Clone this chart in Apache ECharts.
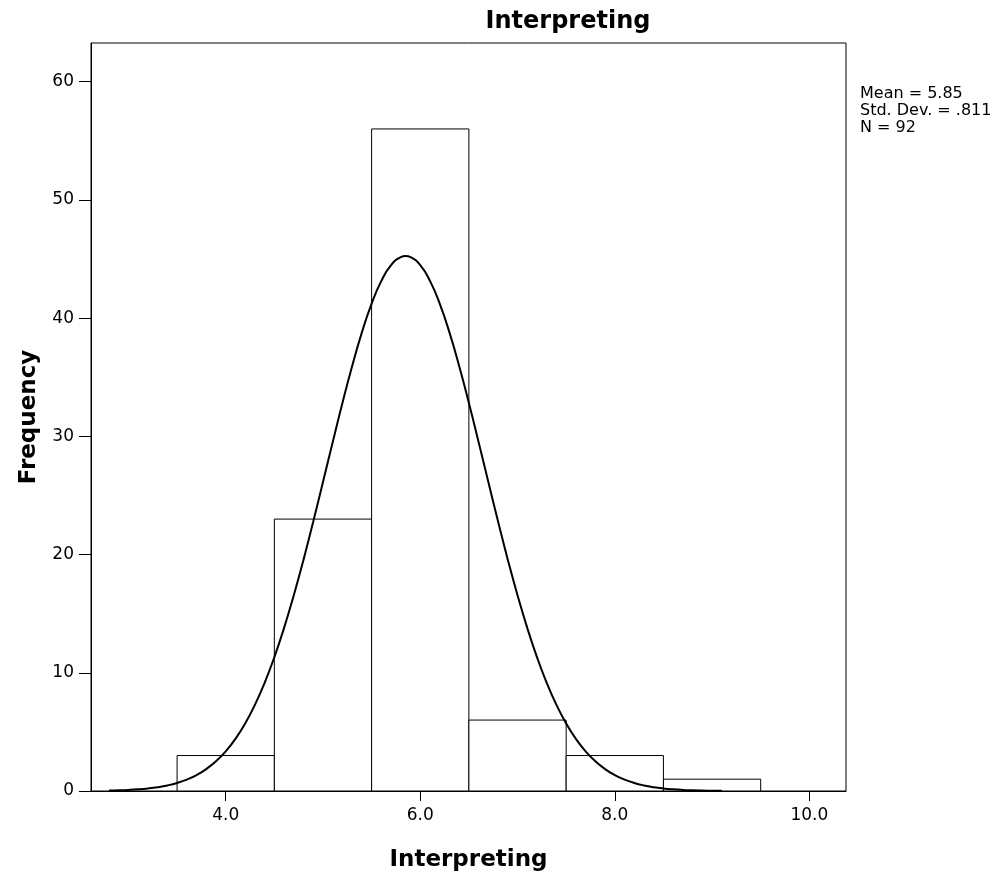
<!DOCTYPE html>
<html>
<head>
<meta charset="utf-8">
<script src="https://cdn.jsdelivr.net/npm/echarts@6/dist/echarts.min.js"></script>
<style>html,body{margin:0;padding:0;background:#fff}#c{width:1001px;height:877px}</style>
</head>
<body>
<div id="c"></div>
<script>
// Histogram bins (value range) and frequencies
var binStart = [3.5, 4.5, 5.5, 6.5, 7.5, 8.5];
var binEnd   = [4.5, 5.5, 6.5, 7.5, 8.5, 9.5];
var counts   = [3, 23, 56, 6, 3, 1];

// Fitted normal curve
var curveX = [2.8,2.9,3.0,3.1,3.2,3.3,3.4,3.5,3.6,3.7,3.8,3.9,4.0,4.1,4.2,4.3,4.4,4.5,4.6,4.7,4.8,4.9,5.0,5.1,5.2,5.3,5.4,5.5,5.6,5.7,5.8,5.85,5.9,6.0,6.1,6.2,6.3,6.4,6.5,6.6,6.7,6.8,6.9,7.0,7.1,7.2,7.3,7.4,7.5,7.6,7.7,7.8,7.9,8.0,8.1,8.2,8.3,8.4,8.5,8.6,8.7,8.8,8.9,9.0,9.1];
var curveY = [0.04,0.061,0.094,0.144,0.217,0.323,0.472,0.68,0.964,1.347,1.854,2.513,3.355,4.411,5.711,7.285,9.15,11.32,13.8,16.56,19.57,22.79,26.13,29.51,32.82,35.95,38.79,41.23,43.15,44.48,45.16,45.25,45.16,44.48,43.15,41.23,38.79,35.95,32.82,29.51,26.13,22.79,19.57,16.56,13.8,11.32,9.15,7.285,5.711,4.411,3.355,2.513,1.854,1.347,0.964,0.68,0.472,0.323,0.217,0.144,0.094,0.061,0.04,0.024,0.015];

var xTicks = [4, 6, 8, 10];
var yTicks = [0, 10, 20, 30, 40, 50, 60];

var titleText = 'Interpreting';
var xName = 'Interpreting';
var yName = 'Frequency';
var statsLines = ['Mean = 5.85', 'Std. Dev. = .811', 'N = 92'];

var FONT = 'DejaVu Sans';

var histData = binStart.map(function (s, i) { return [s, binEnd[i], counts[i]]; });
var curveData = curveX.map(function (x, i) { return [x, curveY[i]]; });

var chart = echarts.init(document.getElementById('c'), null, {renderer: 'canvas'});
chart.setOption({
  animation: false,
  backgroundColor: '#ffffff',
  title: {
    text: titleText,
    left: 563,
    top: 5,
    textAlign: 'center',
    textStyle: {fontFamily: FONT, fontSize: 24, fontWeight: 'bold', color: '#000'}
  },
  grid: {
    left: 91, top: 43, width: 755, height: 749,
    show: true, borderColor: '#000', borderWidth: 1, backgroundColor: 'transparent'
  },
  xAxis: {
    type: 'value',
    min: 2.615, max: 10.377,
    name: xName,
    nameLocation: 'middle',
    nameGap: 58,
    nameTextStyle: {fontFamily: FONT, fontSize: 23, fontWeight: 'bold', color: '#000'},
    axisLine: {show: true, lineStyle: {color: '#000', width: 1}},
    axisTick: {show: true, length: 10, customValues: xTicks, lineStyle: {color: '#000'}},
    axisLabel: {customValues: xTicks, margin: 16, fontFamily: FONT, fontSize: 17, color: '#000',
      formatter: function (v) { return v.toFixed(1); }},
    splitLine: {show: false}
  },
  yAxis: {
    type: 'value',
    min: 0, max: 63.27,
    name: yName,
    nameLocation: 'middle',
    nameRotate: 90,
    nameGap: 50,
    nameTextStyle: {fontFamily: FONT, fontSize: 23, fontWeight: 'bold', color: '#000'},
    axisLine: {show: true, lineStyle: {color: '#000', width: 1}},
    axisTick: {show: true, length: 12, customValues: yTicks, lineStyle: {color: '#000'}},
    axisLabel: {customValues: yTicks, margin: 17, fontFamily: FONT, fontSize: 17, color: '#000'},
    splitLine: {show: false}
  },
  graphic: [{
    type: 'text',
    left: 860,
    top: 85,
    style: {
      text: statsLines.join('\n'),
      font: '16px "DejaVu Sans"',
      lineHeight: 17,
      fill: '#000'
    }
  }],
  series: [{
    type: 'custom',
    data: histData,
    encode: {x: [0, 1], y: 2},
    z: 2,
    renderItem: function (params, api) {
      var p0 = api.coord([api.value(0), api.value(2)]);
      var p1 = api.coord([api.value(1), 0]);
      return {
        type: 'rect',
        shape: {x: p0[0], y: p0[1], width: p1[0] - p0[0], height: p1[1] - p0[1]},
        style: {fill: '#fff', stroke: '#000', lineWidth: 1}
      };
    }
  }, {
    type: 'line',
    data: curveData,
    smooth: true,
    showSymbol: false,
    symbol: 'none',
    z: 3,
    lineStyle: {color: '#000', width: 2}
  }]
});
</script>
</body>
</html>
